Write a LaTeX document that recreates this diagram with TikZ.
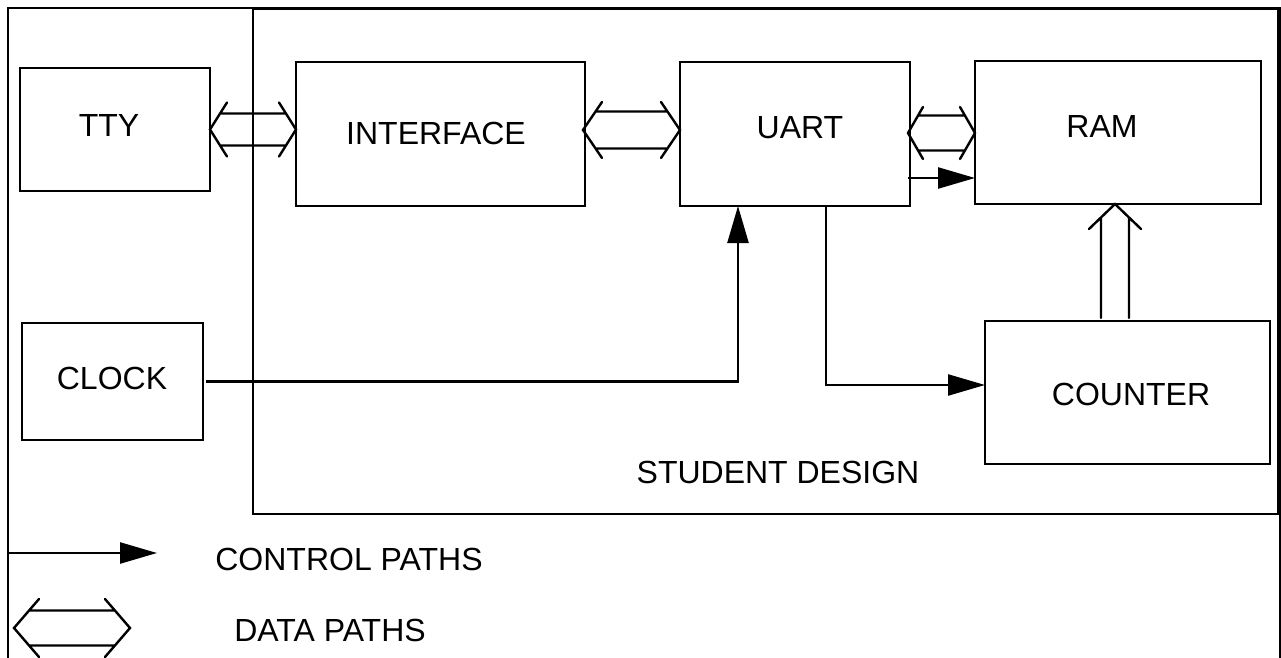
\documentclass[tikz,border=0pt]{standalone}
\usepackage{fontspec}
\setmainfont{Liberation Sans}
\usetikzlibrary{arrows.meta,calc}

% block given by its corners (x1,y1) and (x2,y2)
\newcommand\blk[5]{%
  \node[box, minimum width={(#4-#2)*0.5pt}, minimum height={(#5-#3)*0.5pt}]
    (#1) at ({(#2+#4)/2},{(#3+#5)/2}) {};}

% horizontal data path: left tip, right tip, head depth, head half-height, line half-gap
\newcommand\hdpath[5]{%
  \draw[dp] let \p1=#1, \p2=#2 in
    ($(\p1)+(#3,-#4)$) -- (\p1) -- ($(\p1)+(#3,#4)$)
    ($(\p2)+(-#3,-#4)$) -- (\p2) -- ($(\p2)+(-#3,#4)$)
    ($(\p1)+({#3*#5/#4},-#5)$) -- ($(\p2)+({-#3*#5/#4},-#5)$)
    ($(\p1)+({#3*#5/#4},#5)$) -- ($(\p2)+({-#3*#5/#4},#5)$);}

\tikzset{
  box/.style={draw, line width=1.35pt, inner sep=0pt, outer sep=0pt},
  lbl/.style={font=\fontsize{16}{19}\selectfont, inner sep=0pt},
  ctl/.style={line width=1.2pt, -{Triangle[length=18.5pt,width=10.5pt]}},
  dp/.style={line width=1.2pt, line cap=round},
  frame/.style={line width=1.2pt},
}

\begin{document}
\begin{tikzpicture}[x=0.5pt, y=-0.5pt]
\path[use as bounding box, clip] (0,0) rectangle (1281,658);
\fill[white] (0,0) rectangle (1281,658);

% outer frame, open at the bottom
\draw[frame] (8,680) -- (8,8) -- (1280,8) -- (1280,680);

% student design area
\blk{student}{253}{9}{1278}{514}
\node[lbl] (studentname) at (778,472) {STUDENT DESIGN};

% blocks
\blk{tty}{20}{68}{210}{191}
\blk{iface}{296}{62}{585}{206}
\blk{uart}{680}{62}{910}{206}
\blk{ram}{975}{61}{1261}{204}
\blk{clock}{22}{323}{203}{440}
\blk{counter}{985}{321}{1270}{464}

\node[lbl] (ttyname) at (109,125) {TTY};
\node[lbl] (ifacename) at (436,133) {INTERFACE};
\node[lbl] (uartname) at (800,128) {UART};
\node[lbl] (ramname) at (1102,126) {RAM};
\node[lbl] (clockname) at (112,378) {CLOCK};
\node[lbl] (countername) at (1131,394) {COUNTER};

% end points of the data paths
\coordinate (tir) at (tty.east -| iface.west);
\coordinate (iul) at ($(iface.east)+(-2,-4)$);
\coordinate (iur) at (iul -| uart.west);
\coordinate (url) at ($(uart.east)+(-2,-1)$);
\coordinate (urr) at (url -| ram.west);

% data paths
\hdpath{(tty.east)}{(tir)}{17}{27}{16}
\hdpath{(iul)}{(iur)}{19}{28}{18.5}
\hdpath{(url)}{(urr)}{15}{26}{17.5}

% counter to ram data path (single head at the top)
\draw[dp] let \p1=($(ram.south)+(-3,0)$), \p2=($(counter.north)+(0,-3)$) in
  ($(\p1)+(-26,25)$) -- (\p1) -- ($(\p1)+(26,25)$)
  ($(\p1)+(-14,13.5)$) -- (\x1-7pt,\y2)
  ($(\p1)+(14,13.5)$) -- (\x1+7pt,\y2);

% control paths
\coordinate (ucs) at ($(uart.south east)+(-2,-28)$);
\coordinate (uce) at (ucs -| ram.west);
\draw[ctl] (ucs) -- (uce);
\draw[ctl] ($(clock.east)+(3,0)$) -| ($(uart.south west)+(58,0)$);
\draw[ctl] ($(uart.south west)+(146,0)$) |- ($(counter.north west)+(0,64)$);

% legend
\coordinate (legctl) at (8,553);
\coordinate (legctlend) at (157,553);
\draw[ctl] (legctl) -- (legctlend);
\node[lbl] (legctlname) at (349,559) {CONTROL PATHS};

\coordinate (legdpl) at (14,628);
\coordinate (legdpr) at (130,628);
\hdpath{(legdpl)}{(legdpr)}{25}{29}{17.5}
\node[lbl] (legdpname) at (330,630) {DATA PATHS};
\end{tikzpicture}
\end{document}
